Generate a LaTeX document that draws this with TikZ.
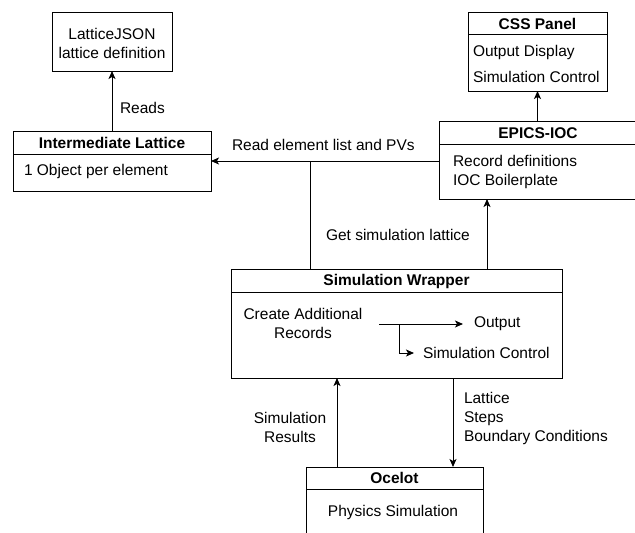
\documentclass[tikz,border=0pt]{standalone}
\usepackage{fontspec}
\setmainfont{Liberation Sans}
\usetikzlibrary{arrows.meta}
\begin{document}
\begin{tikzpicture}[x=1pt,y=-1pt,
  every node/.style={font=\fontsize{15.5}{19}\selectfont, inner sep=0pt, outer sep=0pt},
  box/.style={draw, line width=1pt, fill=none},
  ttl/.style={font=\fontsize{15.5}{19}\selectfont\bfseries},
  arr/.style={-{Stealth[length=8pt,width=7pt,inset=2pt]}, line width=1pt},
  ln/.style={line width=1pt}
]
\useasboundingbox (0,0) rectangle (635,533);
\clip (0,0) rectangle (635,533);

% boxes
\node[box, minimum width=120pt, minimum height=59pt] (json) at (112,41.5) {};
\node[align=center] (jsont) at (112,43) {LatticeJSON\\lattice definition};

\node[box, minimum width=198pt, minimum height=60pt] (inter) at (112,161) {};
\draw[ln] (inter.north west) ++(0,23) -- ++(198,0);
\node[ttl] (intert) at (112,143) {Intermediate Lattice};
\node[anchor=west] (interb) at (24,171) {1 Object per element};

\node[box, minimum width=139pt, minimum height=79pt] (css) at (537.5,51.5) {};
\draw[ln] (css.north west) ++(0,22) -- ++(139,0);
\node[ttl] (csst) at (537.5,24) {CSS Panel};
\node[anchor=west] (cssa) at (473,52) {Output Display};
\node[anchor=west] (cssb) at (473,77) {Simulation Control};

\node[box, minimum width=198pt, minimum height=78pt] (epics) at (538,160) {};
\draw[ln] (epics.north west) ++(0,23) -- ++(198,0);
\node[ttl] (epicst) at (538,133) {EPICS-IOC};
\node[anchor=west] (epicsa) at (453,161) {Record definitions};
\node[anchor=west] (epicsb) at (453,181) {IOC Boilerplate};

\node[box, minimum width=331pt, minimum height=109pt] (sw) at (396.5,323.5) {};
\draw[ln] (sw.north west) ++(0,23) -- ++(331,0);
\node[ttl] (swt) at (396.5,281) {Simulation Wrapper};
\node[align=center] (car) at (303,323) {Create Additional\\Records};
\node[anchor=west] (out) at (474,324) {Output};
\node[anchor=west] (simc) at (423,353) {Simulation Control};

\node[box, minimum width=177pt, minimum height=78pt] (oce) at (394.5,506) {};
\draw[ln] (oce.north west) ++(0,22) -- ++(177,0);
\node[ttl] (ocet) at (394.5,478) {Ocelot};
\node (oceb) at (393,512) {Physics Simulation};

% connector helper coordinates
\coordinate (j) at (310,161);
\coordinate (gx) at (487,0);
\coordinate (ux) at (337,0);
\coordinate (dx) at (453,0);
\coordinate (s1) at (379,324);
\coordinate (s2) at (399,324);

% connectors
\draw[arr] (inter.north) -- (json.south);
\node[anchor=west] (lreads) at (120,108) {Reads};

\draw[arr] (epics.west |- inter.east) -- (inter.east);
\draw[ln] (sw.north -| j) -- (j);
\node[anchor=west] (lread) at (232,145) {Read element list and PVs};

\draw[arr] (sw.north -| gx) -- (epics.south -| gx);
\node[anchor=west] (lget) at (326,235) {Get simulation lattice};

\draw[arr] (epics.north -| css.south) -- (css.south);

\draw[arr] (oce.north -| ux) -- (sw.south -| ux);
\node[align=center] (lres) at (290,427.5) {Simulation\\Results};

\draw[arr] (sw.south -| dx) -- (oce.north -| dx);
\node[anchor=west, align=left] (llat) at (464,418.5) {Lattice\\Steps\\Boundary Conditions};

\draw[arr] (s1) -- ([xshift=-11pt]out.west);
\draw[arr] (s2) |- ([xshift=-9pt]simc.west);
\end{tikzpicture}
\end{document}
